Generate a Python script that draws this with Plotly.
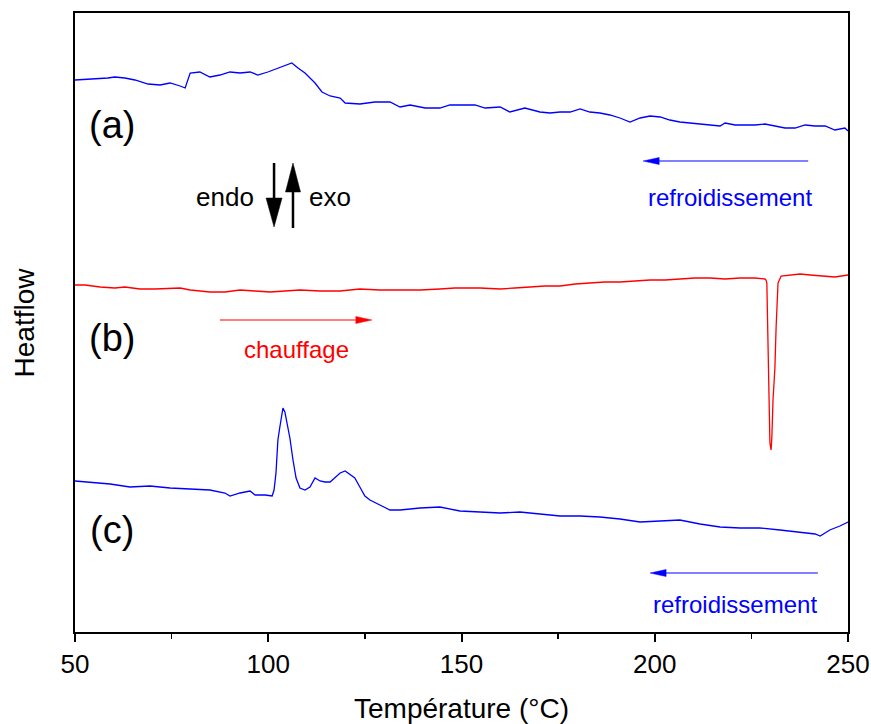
import plotly.graph_objects as go

# ---------------- data ----------------
# Temperature in °C, heat flow in arbitrary units (curves stacked vertically)
T_a = [50.0, 56.5, 58.5, 60.3, 62.9, 65.5, 68.9, 72.0, 74.6, 77.2, 78.5, 79.8, 82.3, 84.9,
       87.5, 90.1, 92.7, 95.3, 97.3, 99.9, 102.5, 104.3, 106.1, 107.7, 109.5, 112.1, 113.9,
       116.0, 118.6, 119.9, 123.7, 127.6, 131.5, 134.1, 136.7, 140.6, 144.4, 147.0, 150.9,
       153.5, 156.1, 160.0, 162.5, 166.4, 170.3, 172.9, 175.5, 178.1, 180.7, 183.2, 185.8,
       188.4, 191.0, 193.6, 196.2, 198.8, 201.4, 203.9, 206.5, 209.1, 211.7, 214.3, 216.9,
       218.2, 220.8, 223.4, 225.9, 228.5, 231.1, 233.7, 236.3, 238.9, 241.5, 244.1, 246.6,
       249.2, 250.0]
hf_a = [552, 553, 554, 555, 554, 552, 548, 547, 549, 546, 544, 559, 560, 555,
        557, 560, 559, 560, 557, 560, 564, 567, 569, 564, 559, 549, 540,
        536, 534, 529, 528, 530, 530, 525, 527, 524, 524, 527, 527,
        527, 524, 525, 520, 524, 520, 519, 520, 520, 523, 520, 519,
        517, 514, 510, 514, 516, 515, 512, 510, 509, 508, 507, 506,
        509, 507, 507, 507, 508, 506, 504, 504, 507, 506, 506, 502,
        504, 501]

T_b = [50.0, 52.6, 56.5, 60.3, 62.9, 66.8, 70.7, 74.6, 77.2, 79.8, 84.9, 88.8, 92.7,
       96.6, 100.5, 104.3, 108.2, 113.4, 118.6, 123.7, 128.9, 134.1, 139.3, 144.4, 148.3,
       154.8, 160.0, 163.8, 167.7, 171.6, 175.5, 179.4, 183.2, 187.1, 191.0, 194.9, 198.8,
       202.7, 206.5, 210.4, 214.3, 218.2, 222.1, 225.9, 228.5, 228.8, 229.0, 229.3, 229.6,
       229.8, 230.1, 230.3, 230.6, 231.1, 231.4, 231.9, 232.7, 235.0, 237.6, 240.2, 244.1,
       246.6, 250.0]
hf_b = [347, 347, 345, 344, 345, 343, 343, 344, 344, 342, 340, 340, 342,
        341, 340, 341, 342, 341, 341, 343, 342, 342, 342, 343, 344,
        344, 343, 344, 345, 346, 346, 348, 349, 350, 350, 351, 352,
        352, 353, 354, 354, 353, 354, 354, 353, 352, 349, 299, 232,
        189, 182, 195, 232, 265, 305, 349, 356, 357, 358, 357, 356,
        355, 357]

T_c = [50.0, 53.9, 59.1, 64.2, 69.4, 74.6, 79.8, 84.9, 88.8, 90.1, 92.7, 95.3, 96.6,
       99.2, 101.0, 101.5, 102.0, 102.5, 103.0, 103.6, 103.8, 104.3, 104.9, 105.6, 106.4,
       107.2, 108.2, 109.5, 110.8, 112.1, 113.4, 114.7, 116.0, 117.3, 118.6, 119.9, 121.2,
       122.4, 123.7, 125.0, 126.3, 128.9, 131.5, 134.1, 139.3, 144.4, 149.6, 154.8, 160.0,
       165.1, 170.3, 175.5, 180.7, 185.8, 191.0, 196.2, 201.4, 206.5, 211.7, 216.9, 222.1,
       227.2, 232.4, 237.6, 241.5, 242.8, 245.3, 247.9, 250.0]
hf_c = [151, 150, 148, 145, 146, 144, 143, 142, 139, 136, 139, 141, 137,
        137, 136, 142, 159, 192, 205, 220, 224, 220, 209, 194, 172,
        154, 144, 142, 145, 154, 151, 150, 150, 155, 159, 161, 157,
        154, 145, 136, 132, 127, 122, 122, 124, 125, 121, 120, 119,
        120, 118, 116, 116, 115, 113, 110, 111, 112, 108, 105, 104,
        104, 102, 100, 98, 96, 102, 106, 110]

x_ticks = [50, 100, 150, 200, 250]

BLUE = "#0000FF"
RED = "#FF0000"
FONT = "Liberation Sans, Arial, sans-serif"
PX_PER_DEG = 773 / 200.0  # plot width in px / x-range

fig = go.Figure()
fig.add_trace(go.Scatter(x=T_a, y=hf_a, mode="lines", line=dict(color=BLUE, width=1.3), showlegend=False))
fig.add_trace(go.Scatter(x=T_b, y=hf_b, mode="lines", line=dict(color=RED, width=1.3), showlegend=False))
fig.add_trace(go.Scatter(x=T_c, y=hf_c, mode="lines", line=dict(color=BLUE, width=1.3), showlegend=False))

shapes = []


def arrow(x0, y0, x1, y1, color, width, head_len, head_w):
    """Arrow from (x0,y0) to (x1,y1); head sizes in pixels."""
    if y0 == y1:  # horizontal
        d = 1 if x1 > x0 else -1
        hl = head_len / PX_PER_DEG
        xb = x1 - d * hl
        shapes.append(dict(type="line", xref="x", yref="y", x0=x0, y0=y0, x1=xb, y1=y1,
                           line=dict(color=color, width=width)))
        shapes.append(dict(type="path", xref="x", yref="y",
                           path=f"M{xb},{y1 - head_w / 2} L{x1},{y1} L{xb},{y1 + head_w / 2} Z",
                           fillcolor=color, line=dict(color=color, width=0.5)))
    else:  # vertical
        d = 1 if y1 > y0 else -1
        yb = y1 - d * head_len
        hw = head_w / 2 / PX_PER_DEG
        shapes.append(dict(type="line", xref="x", yref="y", x0=x0, y0=y0, x1=x1, y1=yb,
                           line=dict(color=color, width=width)))
        shapes.append(dict(type="path", xref="x", yref="y",
                           path=f"M{x1 - hw},{yb} L{x1},{y1} L{x1 + hw},{yb} Z",
                           fillcolor=color, line=dict(color=color, width=0.5)))


# endo / exo arrows
arrow(101.5, 469, 101.5, 405, "black", 2.5, 29, 16)
arrow(106.4, 404, 106.4, 469, "black", 2.5, 29, 15)
# cooling / heating arrows
arrow(239.7, 471, 197.0, 471, BLUE, 1.2, 16, 7)
arrow(87.5, 312, 126.8, 312, RED, 1.2, 16, 7)
arrow(242.2, 59, 198.8, 59, BLUE, 1.2, 16, 7)

annotations = [
    dict(x=59.6, y=507, text="(a)", font=dict(size=38, color="black", family=FONT)),
    dict(x=59.6, y=294, text="(b)", font=dict(size=38, color="black", family=FONT)),
    dict(x=59.6, y=102, text="(c)", font=dict(size=38, color="black", family=FONT)),
    dict(x=88.8, y=435, text="endo", font=dict(size=26, color="black", family=FONT)),
    dict(x=116.0, y=435, text="exo", font=dict(size=26, color="black", family=FONT)),
    dict(x=219.5, y=435, text="refroidissement", font=dict(size=24, color=BLUE, family=FONT)),
    dict(x=107.2, y=283, text="chauffage", font=dict(size=24, color=RED, family=FONT)),
    dict(x=220.8, y=28, text="refroidissement", font=dict(size=24, color=BLUE, family=FONT)),
]
for a in annotations:
    a.update(xref="x", yref="y", showarrow=False, xanchor="center", yanchor="middle")

annotations.append(dict(xref="paper", yref="paper", x=0.5, y=-0.1228, text="Température (°C)",
                        showarrow=False, xanchor="center", yanchor="middle",
                        font=dict(size=28, color="black", family=FONT)))
annotations.append(dict(xref="paper", yref="paper", x=-0.0647, y=0.5, text="Heatflow", textangle=-90,
                        showarrow=False, xanchor="center", yanchor="middle",
                        font=dict(size=28, color="black", family=FONT)))

fig.update_layout(
    width=871, height=724,
    margin=dict(l=75, r=23, t=13, b=92, autoexpand=False),
    paper_bgcolor="white", plot_bgcolor="white",
    shapes=shapes, annotations=annotations,
    font=dict(family=FONT, color="black"),
    xaxis=dict(range=[50, 250], tickvals=x_ticks, ticktext=[str(v) for v in x_ticks],
               ticks="outside", ticklen=8, tickwidth=2, tickcolor="black", automargin=False,
               minor=dict(ticks="outside", ticklen=5, tickwidth=1.5, tickcolor="black", dtick=25, tick0=50),
               showline=True, linewidth=2, linecolor="black", mirror=True,
               showgrid=False, zeroline=False, tickfont=dict(size=26, family=FONT, color="black")),
    yaxis=dict(range=[0, 619], showticklabels=False, ticks="", automargin=False,
               showline=True, linewidth=2, linecolor="black", mirror=True,
               showgrid=False, zeroline=False),
)

# remove the default 8px page margin so the figure fills the window exactly
fig.write_html("out.html",
               config={"displayModeBar": False, "staticPlot": True},
               post_script="document.body.style.margin='0';document.body.style.overflow='hidden';")
